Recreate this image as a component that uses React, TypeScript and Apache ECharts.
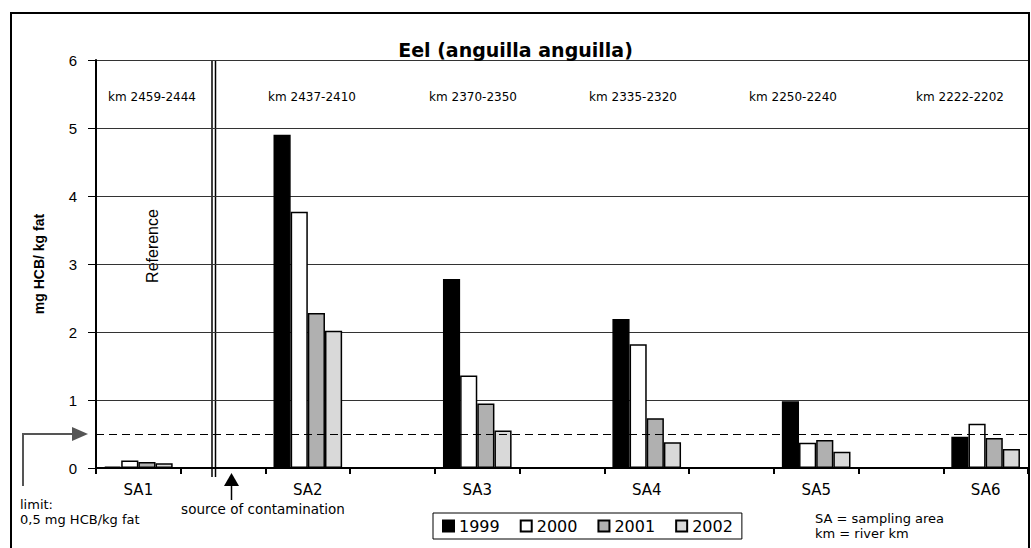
import React, { useEffect, useRef } from "react";
import * as echarts from "echarts";

const categories = ["SA1", "", "SA2", "", "SA3", "", "SA4", "", "SA5", "", "SA6"];
const years = ["1999", "2000", "2001", "2002"];
const v1999 = [0.02, null, 4.9, null, 2.78, null, 2.19, null, 0.98, null, 0.46];
const v2000 = [0.11, null, 3.77, null, 1.36, null, 1.82, null, 0.37, null, 0.65];
const v2001 = [0.09, null, 2.28, null, 0.95, null, 0.73, null, 0.41, null, 0.44];
const v2002 = [0.07, null, 2.02, null, 0.55, null, 0.38, null, 0.24, null, 0.28];
const kmLabels = ["km 2459-2444", "km 2437-2410", "km 2370-2350", "km 2335-2320", "km 2250-2240", "km 2222-2202"];
const limitValue = 0.5;
const yMin = 0;
const yMax = 6;
const yInterval = 1;

const seriesValues = [v1999, v2000, v2001, v2002];
const seriesColors = ["#000000", "#ffffff", "#b0b0b0", "#d9d9d9"];

export default function App() {
  const ref = useRef<HTMLDivElement>(null);
  useEffect(() => {
    document.body.style.margin = "0";
    const chart = echarts.init(ref.current!, null, { renderer: "svg" });
    const kmX = [152, 312, 473, 633, 793, 960];
    const option: any = {
      animation: false,
      backgroundColor: "#ffffff",
      title: {
        text: "Eel (anguilla anguilla)",
        left: "center",
        top: 35,
        textStyle: { fontFamily: "DejaVu Sans", fontWeight: "bold", fontSize: 19, color: "#000" },
      },
      grid: { left: 96, right: 3, top: 60, bottom: 80, containLabel: false, outerBoundsMode: "none" },
      legend: {
        data: years,
        left: 433,
        top: 513,
        orient: "horizontal",
        icon: "rect",
        itemWidth: 11,
        itemHeight: 11,
        itemGap: 20,
        padding: [5, 9, 5, 9],
        borderColor: "#000",
        borderWidth: 1,
        textStyle: { fontFamily: "DejaVu Sans", fontSize: 16, color: "#000", padding: [0, 0, 0, 0] },
      },
      xAxis: {
        type: "category",
        data: categories,
        axisLine: { show: true, lineStyle: { color: "#000", width: 2 } },
        axisTick: { show: true, interval: 0, alignWithLabel: false, length: 6, lineStyle: { color: "#000", width: 2 } },
        axisLabel: { interval: 0, margin: 14, fontFamily: "DejaVu Sans", fontSize: 15, color: "#000" },
        splitLine: { show: false },
      },
      yAxis: {
        type: "value",
        min: yMin,
        max: yMax,
        interval: yInterval,
        name: "mg HCB/ kg fat",
        nameLocation: "middle",
        nameGap: 50,
        nameRotate: 90,
        nameTextStyle: { fontFamily: "Liberation Sans", fontWeight: "bold", fontSize: 14, color: "#000" },
        axisLine: { show: true, lineStyle: { color: "#000", width: 2 } },
        axisTick: { show: true, length: 8, lineStyle: { color: "#000", width: 1 } },
        axisLabel: { margin: 19, fontFamily: "Liberation Sans", fontSize: 15, color: "#000" },
        splitLine: { show: true, lineStyle: { color: "#333", width: 1 } },
      },
      series: seriesValues.map((vals, i) => ({
        name: years[i],
        type: "bar",
        data: vals,
        barGap: "0%",
        barCategoryGap: "19%",
        itemStyle: { color: seriesColors[i], borderColor: "#000", borderWidth: 1.5 },
        markLine:
          i === 0
            ? {
                silent: true,
                symbol: ["none", "none"],
                label: { show: false },
                lineStyle: { type: [8, 5], color: "#000", width: 1.2 },
                data: [{ yAxis: limitValue }],
              }
            : undefined,
      })),
      graphic: [
        { type: "rect", silent: true, shape: { x: 11, y: 13, width: 1018, height: 560 }, style: { fill: "none", stroke: "#000", lineWidth: 2 } },
        { type: "line", silent: true, shape: { x1: 212, y1: 60, x2: 212, y2: 477 }, style: { stroke: "#000", lineWidth: 1.5 } },
        { type: "line", silent: true, shape: { x1: 215.5, y1: 60, x2: 215.5, y2: 477 }, style: { stroke: "#000", lineWidth: 1.5 } },
        {
          type: "text",
          x: 152,
          y: 246,
          rotation: Math.PI / 2,
          style: { text: "Reference", font: "16px 'Liberation Sans'", align: "center", verticalAlign: "middle", fill: "#000" },
        },
        ...kmLabels.map((t, i) => ({
          type: "text",
          x: kmX[i],
          y: 97,
          style: { text: t, font: "12px 'DejaVu Sans'", align: "center", verticalAlign: "middle", fill: "#000" },
        })),
        { type: "text", x: 263, y: 509, style: { text: "source of contamination", font: "13.5px 'DejaVu Sans'", align: "center", verticalAlign: "middle", fill: "#000" } },
        { type: "text", x: 20, y: 504, style: { text: "limit:", font: "13px 'DejaVu Sans'", align: "left", verticalAlign: "middle", fill: "#000" } },
        { type: "text", x: 20, y: 519, style: { text: "0,5 mg HCB/kg fat", font: "13px 'DejaVu Sans'", align: "left", verticalAlign: "middle", fill: "#000" } },
        { type: "text", x: 815, y: 518, style: { text: "SA = sampling area", font: "13px 'DejaVu Sans'", align: "left", verticalAlign: "middle", fill: "#000" } },
        { type: "text", x: 815, y: 533, style: { text: "km = river km", font: "13px 'DejaVu Sans'", align: "left", verticalAlign: "middle", fill: "#000" } },
        { type: "polyline", silent: true, shape: { points: [[23, 486], [23, 434], [74, 434]] }, style: { stroke: "#555", lineWidth: 2, fill: "none" } },
        { type: "polygon", silent: true, shape: { points: [[72, 427], [88, 434], [72, 441]] }, style: { fill: "#555" } },
        { type: "polygon", silent: true, shape: { points: [[224, 486], [231.5, 473], [239, 486]] }, style: { fill: "#000" } },
        { type: "line", silent: true, shape: { x1: 231.5, y1: 485, x2: 231.5, y2: 500 }, style: { stroke: "#000", lineWidth: 1.5 } },
      ],
    };
    chart.setOption(option);
    return () => chart.dispose();
  }, []);
  return <div ref={ref} style={{ width: 1031, height: 548 }} />;
}
